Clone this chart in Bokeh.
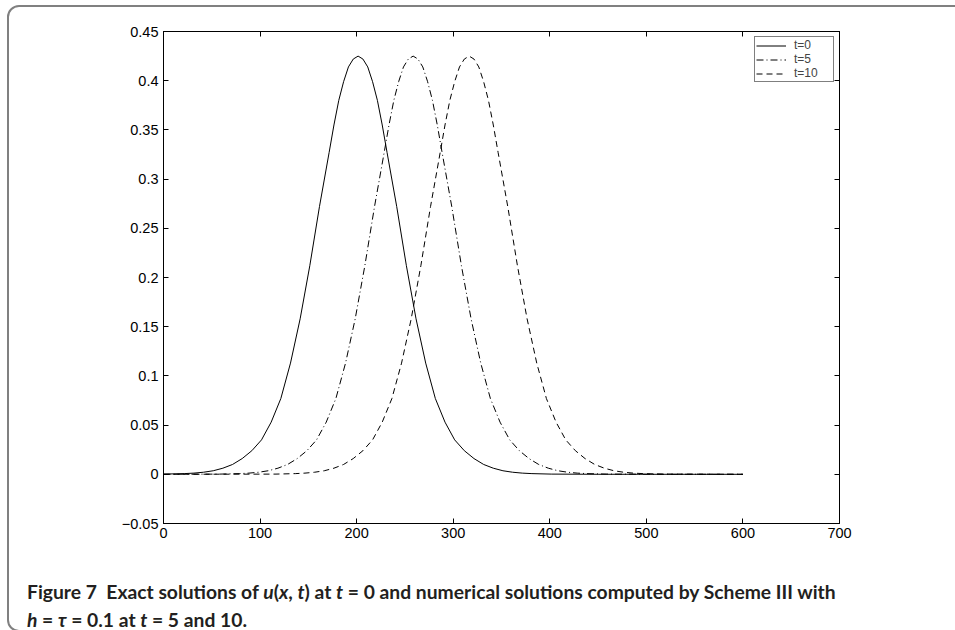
from bokeh.plotting import figure
from bokeh.models import (LinearAxis, FixedTicker, CustomJSTickFormatter, Legend,
                          LegendItem, Div, Range1d)
from bokeh.layouts import column
from bokeh.embed import file_html
from bokeh.resources import INLINE

# ---- data ----
x_t0 = [0, 21.5, 31.5, 41.5, 51.5, 61.5, 71.5, 81.5, 91.5, 101.5, 111.5, 121.5, 131.5,
        141.5, 151.5, 161.5, 171.5, 176.5, 181.5, 186.5, 191.5, 196.5, 201.5, 206.5,
        211.5, 216.5, 221.5, 226.5, 231.5, 241.5, 251.5, 261.5, 271.5, 281.5, 291.5,
        301.5, 311.5, 321.5, 331.5, 341.5, 351.5, 361.5, 371.5, 381.5, 401.5, 450, 600]
u_t0 = [0.0002, 0.0007, 0.0012, 0.0021, 0.0036, 0.0062, 0.010, 0.016, 0.024, 0.035,
        0.053, 0.077, 0.113, 0.158, 0.212, 0.272, 0.327, 0.355, 0.380, 0.399, 0.414,
        0.422, 0.425, 0.422, 0.414, 0.399, 0.380, 0.355, 0.327, 0.272, 0.212, 0.158,
        0.113, 0.077, 0.053, 0.035, 0.024, 0.016, 0.010, 0.0062, 0.0036, 0.0021,
        0.0012, 0.0007, 0.0002, 0.00003, 0.0]

x_t5 = [0, 58.5, 78.5, 88.5, 98.5, 108.5, 118.5, 128.5, 138.5, 148.5, 158.5, 168.5,
        178.5, 188.5, 198.5, 208.5, 218.5, 228.5, 233.5, 238.5, 243.5, 248.5, 253.5,
        258.5, 263.5, 268.5, 273.5, 278.5, 283.5, 288.5, 298.5, 308.5, 318.5, 328.5,
        338.5, 348.5, 358.5, 368.5, 378.5, 388.5, 398.5, 408.5, 418.5, 428.5, 438.5,
        458.5, 520, 600]
u_t5 = [0.00001, 0.0002, 0.0007, 0.0012, 0.0021, 0.0036, 0.0062, 0.010, 0.016, 0.024,
        0.035, 0.053, 0.077, 0.113, 0.158, 0.212, 0.272, 0.327, 0.355, 0.380, 0.399,
        0.414, 0.422, 0.425, 0.422, 0.414, 0.399, 0.380, 0.355, 0.327, 0.272, 0.212,
        0.158, 0.113, 0.077, 0.053, 0.035, 0.024, 0.016, 0.010, 0.0062, 0.0036,
        0.0021, 0.0012, 0.0007, 0.0002, 0.00002, 0.0]

x_t10 = [0, 116.5, 136.5, 146.5, 156.5, 166.5, 176.5, 186.5, 196.5, 206.5, 216.5,
         226.5, 236.5, 246.5, 256.5, 266.5, 276.5, 286.5, 291.5, 296.5, 301.5, 306.5,
         311.5, 316.5, 321.5, 326.5, 331.5, 336.5, 341.5, 346.5, 356.5, 366.5, 376.5,
         386.5, 396.5, 406.5, 416.5, 426.5, 436.5, 446.5, 456.5, 466.5, 476.5, 486.5,
         496.5, 516.5, 600]
u_t10 = [0.0, 0.0002, 0.0007, 0.0012, 0.0021, 0.0036, 0.0062, 0.010, 0.016, 0.024,
         0.035, 0.053, 0.077, 0.113, 0.158, 0.212, 0.272, 0.327, 0.355, 0.380, 0.399,
         0.414, 0.422, 0.425, 0.422, 0.414, 0.399, 0.380, 0.355, 0.327, 0.272, 0.212,
         0.158, 0.113, 0.077, 0.053, 0.035, 0.024, 0.016, 0.010, 0.0062, 0.0036,
         0.0021, 0.0012, 0.0007, 0.0002, 0.00001]

series_labels = ["t=0", "t=5", "t=10"]
x_ticks = [0, 100, 200, 300, 400, 500, 600, 700]
y_ticks = [-0.05, 0, 0.05, 0.1, 0.15, 0.2, 0.25, 0.3, 0.35, 0.4, 0.45]

# ---- figure ----
p = figure(frame_width=676, frame_height=492,
           x_range=Range1d(0, 700), y_range=Range1d(-0.05, 0.45),
           output_backend="svg", toolbar_location=None,
           min_border_left=163, min_border_right=116,
           min_border_top=31, min_border_bottom=37)
p.grid.visible = False
p.outline_line_color = "black"
p.background_fill_color = "white"
p.border_fill_color = "white"

FONT = "Liberation Sans"

def style_axis(ax, ticks):
    ax.ticker = FixedTicker(ticks=ticks, minor_ticks=[])
    ax.major_tick_in = 5
    ax.major_tick_out = 0
    ax.minor_tick_in = 0
    ax.minor_tick_out = 0
    ax.axis_line_color = "black"
    ax.axis_line_width = 1
    ax.major_tick_line_color = "black"
    ax.major_label_text_font = FONT
    ax.major_label_text_font_size = "14.5px"
    ax.major_label_text_color = "black"

style_axis(p.xaxis[0], x_ticks)
style_axis(p.yaxis[0], y_ticks)
p.xaxis[0].major_label_standoff = 4
p.yaxis[0].major_label_standoff = 5
p.yaxis[0].formatter = CustomJSTickFormatter(code="""
const a = Math.round(Math.abs(tick) * 100) / 100;
return (tick < -1e-9 ? '\u2212' : '') + a.toString();
""")

for loc, ticks in (("above", x_ticks), ("right", y_ticks)):
    ax = LinearAxis(formatter=CustomJSTickFormatter(code="return '';"))
    style_axis(ax, ticks)
    ax.major_label_standoff = 0
    p.add_layout(ax, loc)

r0 = p.line(x_t0, u_t0, line_color="black", line_width=1)
r5 = p.line(x_t5, u_t5, line_color="black", line_width=1, line_dash="7 3 1 3")
r10 = p.line(x_t10, u_t10, line_color="black", line_width=1, line_dash="6 4")

legend = Legend(items=[LegendItem(label=series_labels[0], renderers=[r0]),
                       LegendItem(label=series_labels[1], renderers=[r5]),
                       LegendItem(label=series_labels[2], renderers=[r10])],
                location="top_right")
legend.margin = 5
legend.padding = 1
legend.spacing = 0
legend.label_height = 11
legend.glyph_height = 11
legend.glyph_width = 30
legend.label_standoff = 8
legend.label_width = 38
legend.label_text_font = FONT
legend.label_text_font_size = "12px"
legend.border_line_color = "black"
legend.border_line_width = 1
legend.background_fill_color = "white"
legend.background_fill_alpha = 1
p.add_layout(legend)

caption = Div(width=955, height=70, text="""
<div style="position:fixed; left:7px; top:5px; width:1000px; height:627px; box-sizing:border-box;
  border:2px solid #808080; border-radius:12px; pointer-events:none;"></div>
<div style="font-family:Lato, 'Open Sans', sans-serif; font-weight:700; font-size:19.3px;
  line-height:28px; color:#231f20; padding-left:22px; padding-top:13px; white-space:nowrap;">
Figure 7&nbsp;&nbsp;Exact solutions of <i>u</i>(<i>x</i>, <i>t</i>) at <i>t</i> = 0 and numerical solutions computed by Scheme III with<br>
<i>h</i> = <i>τ</i> = 0.1 at <i>t</i> = 5 and 10.
</div>
""")

layout = column(p, caption, spacing=0)

open("out.html", "w").write(file_html(layout, INLINE))
